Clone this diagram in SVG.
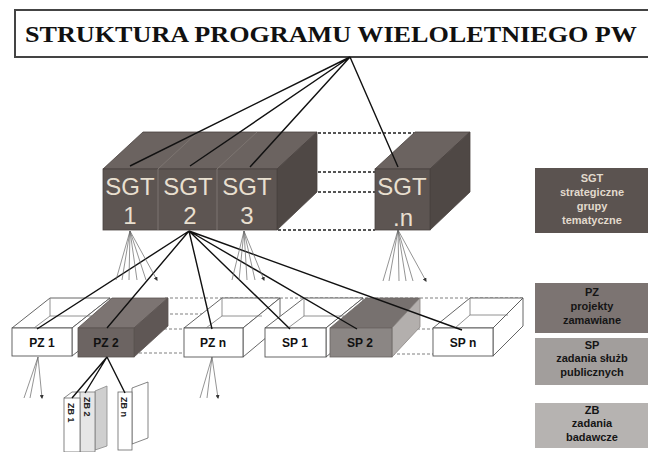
<svg xmlns="http://www.w3.org/2000/svg" width="648" height="452" viewBox="0 0 648 452">
<defs>
<marker id="dot" viewBox="0 0 4 4" refX="3" refY="2" markerWidth="4" markerHeight="4" markerUnits="userSpaceOnUse" orient="auto"><path d="M0,0 L4,2 L0,4 z" fill="#333"/></marker>
</defs>
<style>
.top{fill:#6b6360;stroke:#4a4340;stroke-width:0.8}
.front{fill:#5d5552;stroke:#4a4340;stroke-width:0.8}
.side{fill:#4f4845;stroke:#4a4340;stroke-width:0.8}
.sgt{font-family:"Liberation Sans",Arial,sans-serif;font-size:24px;fill:#e8dfcf;text-anchor:middle}
.dots{stroke:#555;stroke-width:2;stroke-dasharray:3 2;fill:none}
.dotsl{stroke:#aaa;stroke-width:1.5;stroke-dasharray:3 2;fill:none}
.tray{fill:#fff;stroke:#555;stroke-width:0.9}
.lbl{font-family:"Liberation Sans",Arial,sans-serif;font-size:12px;font-weight:bold;fill:#111;text-anchor:middle}
.main{stroke:#111;stroke-width:1.4;fill:none}
.fan{stroke:#666;stroke-width:0.7;fill:none;marker-end:url(#dot)}
.leg{font-family:"Liberation Sans",Arial,sans-serif;font-size:11px;font-weight:bold;text-anchor:middle}
.card{fill:#fff;stroke:#666;stroke-width:0.8}
.ct{font-family:"Liberation Sans",Arial,sans-serif;font-size:9px;font-weight:bold;fill:#222}
</style>
<rect width="648" height="452" fill="#fff"/>

<g id="title">
<rect x="15" y="10" width="645" height="47" fill="#fff" stroke="#444" stroke-width="2"/>
<text x="25" y="42" font-family="'Liberation Serif','Times New Roman',serif" font-weight="bold" font-size="24" fill="#111" textLength="612" lengthAdjust="spacingAndGlyphs">STRUKTURA PROGRAMU WIELOLETNIEGO  PW</text>
</g>

<g id="dotted-lines">
<path class="dots" d="M318,133 H414 M278,172 H375 M318,192 H375 M278,230 H375"/>
<path class="dotsl" d="M165,298 H525 M165,314 H232 M134,329 H185 M134,353 H185 M392,329 H433 M392,354 H433"/>
</g>

<g id="sgt123">
<polygon class="top" points="103,169 277,169 317,132 143,132"/>
<polygon class="side" points="277,169 317,132 317,192 277,230"/>
<rect class="front" x="103" y="169" width="174" height="61"/>
<path d="M158,169 L198,132 M217,169 L257,132 M158,169 V230 M217,169 V230" stroke="#7d7571" stroke-width="1" fill="none"/>
<text class="sgt" x="130" y="195">SGT</text>
<text class="sgt" x="130" y="224">1</text>
<text class="sgt" x="188" y="195">SGT</text>
<text class="sgt" x="190" y="224">2</text>
<text class="sgt" x="247" y="195">SGT</text>
<text class="sgt" x="247" y="224">3</text>
</g>

<g id="sgtn">
<polygon class="top" points="375,169 430,169 470,132 415,132"/>
<polygon class="side" points="430,169 470,132 470,192 430,230"/>
<rect class="front" x="375" y="169" width="55" height="61"/>
<text class="sgt" x="402" y="195">SGT</text>
<text class="sgt" x="403" y="226">.n</text>
</g>

<g id="pz1">
<polygon class="tray" points="12,328 72,328 110,298 50,298"/>
<polygon class="tray" points="72,328 110,298 110,326 72,356"/>
<rect class="tray" x="12" y="328" width="60" height="28"/>
<path d="M50,298 V316 H92 M50,316 L34,328" stroke="#777" stroke-width="0.8" fill="none"/>
<text class="lbl" x="42" y="347">PZ 1</text>
</g>

<g id="pz2">
<polygon points="78,328 134,328 168,298 112,298" fill="#7c7472" stroke="#5a5350" stroke-width="0.8"/>
<polygon points="134,328 168,298 168,326 134,357" fill="#5f5755" stroke="#5a5350" stroke-width="0.8"/>
<rect x="78" y="328" width="56" height="29" fill="#6c6462" stroke="#5a5350" stroke-width="0.8"/>
<text class="lbl" x="106" y="347">PZ 2</text>
</g>

<g id="pzn">
<polygon class="tray" points="184,328 243,328 280,298 222,298"/>
<polygon class="tray" points="243,328 280,298 280,326 243,357"/>
<rect class="tray" x="184" y="328" width="59" height="29"/>
<path d="M222,298 V316 H262 M222,316 L206,328" stroke="#777" stroke-width="0.8" fill="none"/>
<text class="lbl" x="213" y="347">PZ n</text>
</g>

<g id="sp1">
<polygon class="tray" points="265,328 326,328 363,298 304,298"/>
<polygon class="tray" points="326,328 363,298 363,326 326,357"/>
<rect class="tray" x="265" y="328" width="61" height="29"/>
<path d="M304,298 V316 H344 M304,316 L288,328" stroke="#777" stroke-width="0.8" fill="none"/>
<text class="lbl" x="295" y="347">SP 1</text>
</g>

<g id="sp2">
<polygon points="330,328 392,328 420,298 366,298" fill="#77716f" stroke="#6a6462" stroke-width="0.8"/>
<polygon points="392,328 420,298 420,327 392,357" fill="#b3afad" stroke="#8a8583" stroke-width="0.8"/>
<rect x="330" y="328" width="62" height="29" fill="#8b8684" stroke="#6a6462" stroke-width="0.8"/>
<text class="lbl" x="360" y="347">SP 2</text>
</g>

<g id="spn">
<polygon class="tray" points="433,328 493,328 523,298 470,298"/>
<polygon class="tray" points="493,328 523,298 523,326 493,356"/>
<rect class="tray" x="433" y="328" width="60" height="28"/>
<path d="M470,298 V315 H508 M470,315 L455,328" stroke="#777" stroke-width="0.8" fill="none"/>
<text class="lbl" x="463" y="347">SP n</text>
</g>

<g id="zb-cards">
<polygon class="card" points="132,388 148,382 148,438 132,444"/>
<rect class="card" x="118" y="392" width="14" height="58"/>
<polygon points="95,391 107,386 107,446 95,450" fill="#cfcfcf" stroke="#888" stroke-width="0.8"/>
<rect x="80" y="392" width="15" height="60" fill="#e6e6e6" stroke="#777" stroke-width="0.8"/>
<rect class="card" x="64" y="398" width="16" height="54"/>
<path d="M64,398 L72,392 H80" stroke="#666" stroke-width="0.8" fill="none"/>
<text class="ct" transform="translate(68,403) rotate(90)">ZB 1</text>
<text class="ct" transform="translate(84,397) rotate(90)">ZB 2</text>
<text class="ct" transform="translate(121,397) rotate(90)">ZB n</text>
</g>

<g id="legend">
<g id="leg-sgt">
<rect x="535" y="168" width="113" height="65" fill="#5b5350"/>
<text class="leg" fill="#e2dacd" x="592" y="182">SGT</text>
<text class="leg" fill="#e2dacd" x="592" y="196">strategiczne</text>
<text class="leg" fill="#e2dacd" x="592" y="210">grupy</text>
<text class="leg" fill="#e2dacd" x="592" y="224">tematyczne</text>
</g>
<g id="leg-pz">
<rect x="535" y="283" width="113" height="50" fill="#7c7472"/>
<text class="leg" fill="#151515" x="592" y="296">PZ</text>
<text class="leg" fill="#151515" x="592" y="310">projekty</text>
<text class="leg" fill="#151515" x="592" y="324">zamawiane</text>
</g>
<g id="leg-sp">
<rect x="535" y="338" width="113" height="47" fill="#a29e9c"/>
<text class="leg" fill="#151515" x="592" y="349">SP</text>
<text class="leg" fill="#151515" x="592" y="362">zadania służb</text>
<text class="leg" fill="#151515" x="592" y="376">publicznych</text>
</g>
<g id="leg-zb">
<rect x="535" y="403" width="113" height="45" fill="#b6b3b1"/>
<text class="leg" fill="#151515" x="592" y="414">ZB</text>
<text class="leg" fill="#151515" x="592" y="427">zadania</text>
<text class="leg" fill="#151515" x="592" y="441">badawcze</text>
</g>
</g>

<g id="connectors">
<path class="main" d="M350,57 L130,166 M350,57 L190,166 M350,57 L250,167 M350,57 L398,167"/>
<path class="main" d="M189,231 L37,329 M189,231 L107,328 M189,231 L212,329 M189,231 L290,329 M189,231 L357,329 M189,231 L462,330"/>
<path class="main" d="M107,357 L72,398 M107,357 L85,393 M107,357 L125,393" stroke-width="1.2"/>
<g>
<path class="fan" d="M130,231 L116,280 M130,231 L122,280 M130,231 L129,280 M130,231 L137,280 M130,231 L146,280 M130,231 L157,280"/>
<path class="fan" d="M244,231 L232,280 M244,231 L239,280 M244,231 L247,280 M244,231 L255,280 M244,231 L264,280"/>
<path class="fan" d="M398,230 L383,281 M398,230 L389,281 M398,230 L399,281 M398,230 L406,281 M398,230 L413,281 M398,230 L426,281"/>
<path class="fan" d="M38,357 L24,398 M38,357 L30,398 M38,357 L42,398"/>
<path class="fan" d="M212,357 L200,398 M212,357 L207,398 M212,357 L218,398"/>
</g>
</g>
</svg>
